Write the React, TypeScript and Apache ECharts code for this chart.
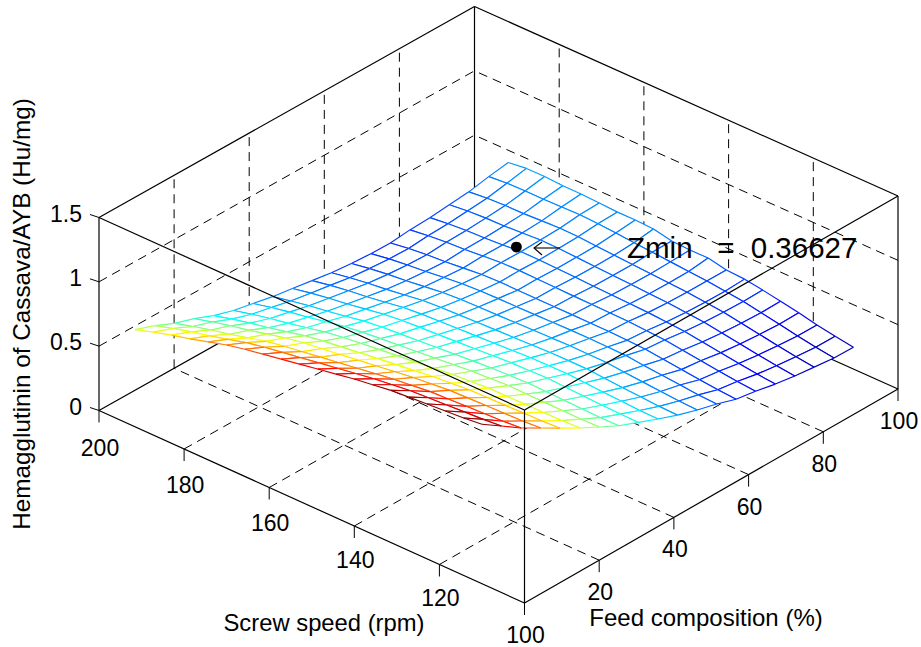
import React, { useEffect, useRef } from "react";
import * as echarts from "echarts";

const screwSpeeds = [110, 114.3, 118.6, 122.9, 127.2, 131.4, 135.7, 140, 144.3, 148.6, 152.9, 157.2, 161.5, 165.7, 170, 174.3, 178.6, 182.9, 187.2, 191.5];
const feedCompositions = [0, 5.2, 10.5, 15.7, 20.9, 26.2, 31.4, 36.6, 41.9, 47.1, 52.3, 57.6, 62.8, 68, 73.2, 78.5, 83.7, 88.9, 94.2, 99.4];
// one row per screw speed, one column per feed composition
const hemagglutinin = [
  [1.24, 1.14, 1.036, 0.95, 0.862, 0.775, 0.697, 0.62, 0.558, 0.498, 0.442, 0.394, 0.354, 0.305, 0.28, 0.248, 0.224, 0.207, 0.19, 0.188],
  [1.224, 1.127, 1.024, 0.94, 0.854, 0.769, 0.693, 0.619, 0.559, 0.5, 0.446, 0.4, 0.361, 0.315, 0.292, 0.262, 0.24, 0.225, 0.21, 0.209],
  [1.214, 1.119, 1.018, 0.936, 0.851, 0.768, 0.695, 0.622, 0.564, 0.508, 0.455, 0.41, 0.374, 0.329, 0.309, 0.281, 0.261, 0.247, 0.235, 0.233],
  [1.204, 1.11, 1.012, 0.932, 0.847, 0.767, 0.696, 0.626, 0.57, 0.515, 0.464, 0.421, 0.386, 0.344, 0.326, 0.3, 0.283, 0.271, 0.262, 0.265],
  [1.193, 1.102, 1.005, 0.927, 0.844, 0.765, 0.697, 0.63, 0.576, 0.524, 0.474, 0.433, 0.399, 0.361, 0.344, 0.321, 0.305, 0.295, 0.288, 0.292],
  [1.183, 1.094, 0.999, 0.923, 0.841, 0.766, 0.7, 0.634, 0.583, 0.532, 0.484, 0.445, 0.413, 0.376, 0.362, 0.34, 0.326, 0.318, 0.314, 0.316],
  [1.162, 1.076, 0.983, 0.908, 0.828, 0.754, 0.691, 0.629, 0.578, 0.53, 0.484, 0.446, 0.416, 0.382, 0.37, 0.35, 0.338, 0.332, 0.33, 0.338],
  [1.142, 1.058, 0.967, 0.894, 0.816, 0.744, 0.683, 0.623, 0.575, 0.528, 0.483, 0.448, 0.419, 0.387, 0.378, 0.36, 0.351, 0.346, 0.346, 0.345],
  [1.116, 1.035, 0.945, 0.875, 0.798, 0.728, 0.67, 0.612, 0.566, 0.521, 0.478, 0.444, 0.418, 0.388, 0.381, 0.365, 0.358, 0.354, 0.357, 0.375],
  [1.091, 1.011, 0.924, 0.856, 0.78, 0.712, 0.657, 0.601, 0.557, 0.514, 0.473, 0.441, 0.416, 0.389, 0.384, 0.37, 0.365, 0.363, 0.368, 0.374],
  [1.065, 0.989, 0.903, 0.836, 0.763, 0.697, 0.643, 0.59, 0.548, 0.507, 0.468, 0.437, 0.413, 0.389, 0.385, 0.375, 0.372, 0.371, 0.38, 0.381],
  [1.04, 0.965, 0.882, 0.817, 0.744, 0.681, 0.63, 0.579, 0.539, 0.5, 0.463, 0.433, 0.411, 0.389, 0.388, 0.38, 0.379, 0.38, 0.39, 0.411],
  [1.014, 0.942, 0.86, 0.797, 0.726, 0.665, 0.617, 0.568, 0.531, 0.493, 0.457, 0.43, 0.41, 0.39, 0.391, 0.385, 0.386, 0.388, 0.402, 0.418],
  [0.989, 0.919, 0.839, 0.779, 0.708, 0.649, 0.603, 0.557, 0.522, 0.486, 0.452, 0.426, 0.407, 0.391, 0.394, 0.39, 0.393, 0.398, 0.413, 0.417],
  [0.958, 0.891, 0.813, 0.754, 0.685, 0.627, 0.584, 0.541, 0.507, 0.474, 0.442, 0.417, 0.4, 0.386, 0.392, 0.39, 0.395, 0.401, 0.419, 0.424],
  [0.918, 0.852, 0.776, 0.72, 0.652, 0.596, 0.557, 0.515, 0.483, 0.451, 0.421, 0.399, 0.384, 0.372, 0.38, 0.379, 0.386, 0.395, 0.415, 0.431],
  [0.877, 0.815, 0.74, 0.685, 0.62, 0.566, 0.528, 0.489, 0.459, 0.43, 0.401, 0.381, 0.367, 0.358, 0.367, 0.369, 0.378, 0.388, 0.412, 0.432],
  [0.842, 0.781, 0.709, 0.656, 0.591, 0.54, 0.504, 0.468, 0.44, 0.412, 0.385, 0.367, 0.354, 0.348, 0.36, 0.364, 0.375, 0.387, 0.413, 0.44],
  [0.801, 0.743, 0.672, 0.621, 0.558, 0.509, 0.476, 0.441, 0.415, 0.39, 0.364, 0.348, 0.338, 0.333, 0.347, 0.353, 0.367, 0.38, 0.41, 0.44],
  [0.756, 0.701, 0.632, 0.583, 0.521, 0.474, 0.443, 0.411, 0.387, 0.363, 0.339, 0.324, 0.315, 0.313, 0.329, 0.337, 0.352, 0.367, 0.398, 0.423],
];

const screwTicks = [100, 120, 140, 160, 180, 200];
const feedTicks = [20, 40, 60, 80, 100];
const zTicks = [0, 0.5, 1, 1.5];
const zMinPoint = { screw: 172.4, feed: 80, z: 0.36627 };

const FONT = "'Liberation Sans', Arial, Helvetica, sans-serif";

// Oblique view of the plot box: screen position of a (screw, feed, z) point.
function project(screw: number, feed: number, z: number): [number, number] {
  const s = (screw - 100) / 100;
  const f = feed / 100;
  return [
    524.5 - 425.5 * s + 373.5 * f + 2 * s * f,
    603 - 192.5 * s - 214 * f + 3 * s * f - (z / 1.5) * 193,
  ];
}

function jet(t: number): string {
  const c = Math.max(0, Math.min(1, t));
  const ch = (v: number) => Math.round(255 * Math.max(0, Math.min(1, v)));
  const r = 1.5 - Math.abs(4 * c - 3);
  const g = 1.5 - Math.abs(4 * c - 2);
  const b = 1.5 - Math.abs(4 * c - 1);
  return `rgb(${ch(r)},${ch(g)},${ch(b)})`;
}
const colorOf = (z: number) => jet((z - 0.14) / (1.2 - 0.14));

type Seg = [number, number, number, number, number, number, number];
// [screwA, feedA, zA, screwB, feedB, zB, dashed]
const backLines: Seg[] = [];
const frontLines: Seg[] = [];
const SMIN = 100, SMAX = 200, FMIN = 0, FMAX = 100, ZMAX = 1.5;

feedTicks.filter((f) => f < FMAX).forEach((f) => {
  backLines.push([SMIN, f, 0, SMAX, f, 0, 1]);
  backLines.push([SMAX, f, 0, SMAX, f, ZMAX, 1]);
});
screwTicks.filter((s) => s > SMIN && s < SMAX).forEach((s) => {
  backLines.push([s, FMIN, 0, s, FMAX, 0, 1]);
  backLines.push([s, FMAX, 0, s, FMAX, ZMAX, 1]);
});
zTicks.filter((z) => z > 0 && z < ZMAX).forEach((z) => {
  backLines.push([SMAX, FMIN, z, SMAX, FMAX, z, 1]);
  backLines.push([SMIN, FMAX, z, SMAX, FMAX, z, 1]);
});
backLines.push([SMAX, FMIN, 0, SMAX, FMAX, 0, 0]);
backLines.push([SMIN, FMAX, 0, SMAX, FMAX, 0, 0]);
backLines.push([SMAX, FMAX, 0, SMAX, FMAX, ZMAX, 0]);
backLines.push([SMAX, FMIN, ZMAX, SMAX, FMAX, ZMAX, 0]);
backLines.push([SMIN, FMAX, ZMAX, SMAX, FMAX, ZMAX, 0]);

frontLines.push([SMIN, FMIN, 0, SMAX, FMIN, 0, 0]);
frontLines.push([SMIN, FMIN, 0, SMIN, FMAX, 0, 0]);
frontLines.push([SMIN, FMIN, 0, SMIN, FMIN, ZMAX, 0]);
frontLines.push([SMAX, FMIN, 0, SMAX, FMIN, ZMAX, 0]);
frontLines.push([SMIN, FMAX, 0, SMIN, FMAX, ZMAX, 0]);
frontLines.push([SMIN, FMIN, ZMAX, SMAX, FMIN, ZMAX, 0]);
frontLines.push([SMIN, FMIN, ZMAX, SMIN, FMAX, ZMAX, 0]);

const lineRenderer = (_p: any, api: any) => {
  const a = project(api.value(0), api.value(1), api.value(2));
  const b = project(api.value(3), api.value(4), api.value(5));
  const pa = api.coord(a);
  const pb = api.coord(b);
  return {
    type: "line",
    shape: { x1: pa[0], y1: pa[1], x2: pb[0], y2: pb[1] },
    style: {
      stroke: "#000",
      lineWidth: api.value(6) ? 1 : 1.2,
      lineDash: api.value(6) ? [9, 6] : undefined,
      fill: null,
    },
  };
};

const meshCells: number[][] = [];
for (let i = screwSpeeds.length - 2; i >= 0; i--) {
  for (let j = feedCompositions.length - 2; j >= 0; j--) meshCells.push([i, j]);
}

const meshRenderer = (_p: any, api: any) => {
  const i = api.value(0);
  const j = api.value(1);
  const node = (a: number, b: number) =>
    api.coord(project(screwSpeeds[a], feedCompositions[b], hemagglutinin[a][b]));
  const p00 = node(i, j);
  const p01 = node(i, j + 1);
  const p11 = node(i + 1, j + 1);
  const p10 = node(i + 1, j);
  const edge = (a: number[], b: number[], za: number, zb: number) => ({
    type: "line",
    shape: { x1: a[0], y1: a[1], x2: b[0], y2: b[1] },
    style: { stroke: colorOf((za + zb) / 2), lineWidth: 1.15, fill: null },
  });
  const z = hemagglutinin;
  return {
    type: "group",
    children: [
      {
        type: "polygon",
        shape: { points: [p00, p01, p11, p10] },
        style: { fill: "#fff", stroke: null },
      },
      edge(p00, p01, z[i][j], z[i][j + 1]),
      edge(p01, p11, z[i][j + 1], z[i + 1][j + 1]),
      edge(p11, p10, z[i + 1][j + 1], z[i + 1][j]),
      edge(p10, p00, z[i + 1][j], z[i][j]),
    ],
  };
};

// [screw, feed, z, tickDx, tickDy, labelDx, labelDy, labelValue]
const tickRows: number[][] = [
  ...screwTicks.map((s) => [s, FMIN, 0, 0, 12, 1, 32 + ((s - 100) / 100) * 5, s]),
  ...feedTicks.map((f) => [SMIN, f, 0, 0, 12, 1, 32, f]),
  ...zTicks.map((z) => [SMAX, FMIN, z, -9, -3, -17, -4, z]),
];

const tickRenderer = (_p: any, api: any) => {
  const p = api.coord(project(api.value(0), api.value(1), api.value(2)));
  const isZ = api.value(3) !== 0;
  return {
    type: "group",
    children: [
      {
        type: "line",
        shape: { x1: p[0], y1: p[1], x2: p[0] + api.value(3), y2: p[1] + api.value(4) },
        style: { stroke: "#000", lineWidth: 1, fill: null },
      },
      {
        type: "text",
        x: p[0] + api.value(5),
        y: p[1] + api.value(6),
        style: {
          text: String(api.value(7)),
          font: `23px ${FONT}`,
          fill: "#000",
          align: isZ ? "right" : "center",
          verticalAlign: "middle",
        },
      },
    ],
  };
};

const markerRenderer = (_p: any, api: any) => {
  const p = api.coord(project(api.value(0), api.value(1), api.value(2)));
  return {
    type: "group",
    children: [
      { type: "circle", shape: { cx: p[0], cy: p[1], r: 5.4 }, style: { fill: "#000", stroke: null } },
    ],
  };
};

export default function App() {
  const ref = useRef<HTMLDivElement>(null);
  useEffect(() => {
    const chart = echarts.init(ref.current!, null, { renderer: "svg" });
    const txt = (text: string, x: number, y: number, size: number, rotation = 0, align = "center") => ({
      type: "text",
      x,
      y,
      rotation,
      z: 100,
      style: { text, font: `${size}px ${FONT}`, fill: "#000", align, verticalAlign: "middle" },
    });
    chart.setOption({
      animation: false,
      backgroundColor: "#fff",
      grid: { left: 0, right: 0, top: 0, bottom: 0 },
      xAxis: { type: "value", min: 0, max: 921, show: false },
      yAxis: { type: "value", min: 0, max: 647, inverse: true, show: false },
      series: [
        { type: "custom", coordinateSystem: "cartesian2d", clip: false, silent: true, z: 1, renderItem: lineRenderer, data: backLines },
        { type: "custom", coordinateSystem: "cartesian2d", clip: false, silent: true, z: 2, renderItem: meshRenderer, data: meshCells },
        { type: "custom", coordinateSystem: "cartesian2d", clip: false, silent: true, z: 3, renderItem: lineRenderer, data: frontLines },
        { type: "custom", coordinateSystem: "cartesian2d", clip: false, silent: true, z: 4, renderItem: tickRenderer, data: tickRows },
        { type: "custom", coordinateSystem: "cartesian2d", clip: false, silent: true, z: 5, renderItem: markerRenderer, data: [[zMinPoint.screw, zMinPoint.feed, zMinPoint.z]] },
      ],
      graphic: [
        txt("Screw speed (rpm)", 324, 622, 23.8),
        txt("Feed composition (%)", 706, 617, 24),
        txt("Hemagglutinin of Cassava/AYB (Hu/mg)", 21, 314, 24.3, Math.PI / 2),
        txt("Zmin   =  0.36627", 627, 247, 29.5, 0, "left"),
        { type: "line", z: 100, shape: { x1: 534, y1: 248, x2: 560, y2: 248 }, style: { stroke: "#000", lineWidth: 1.1 } },
        { type: "polyline", z: 100, shape: { points: [[542, 242], [534, 248], [542, 255]] }, style: { stroke: "#000", lineWidth: 1.1, fill: "none" } },
      ],
    });
    return () => chart.dispose();
  }, []);
  return <div ref={ref} style={{ position: "absolute", left: 0, top: 0, width: 921, height: 647 }} />;
}
